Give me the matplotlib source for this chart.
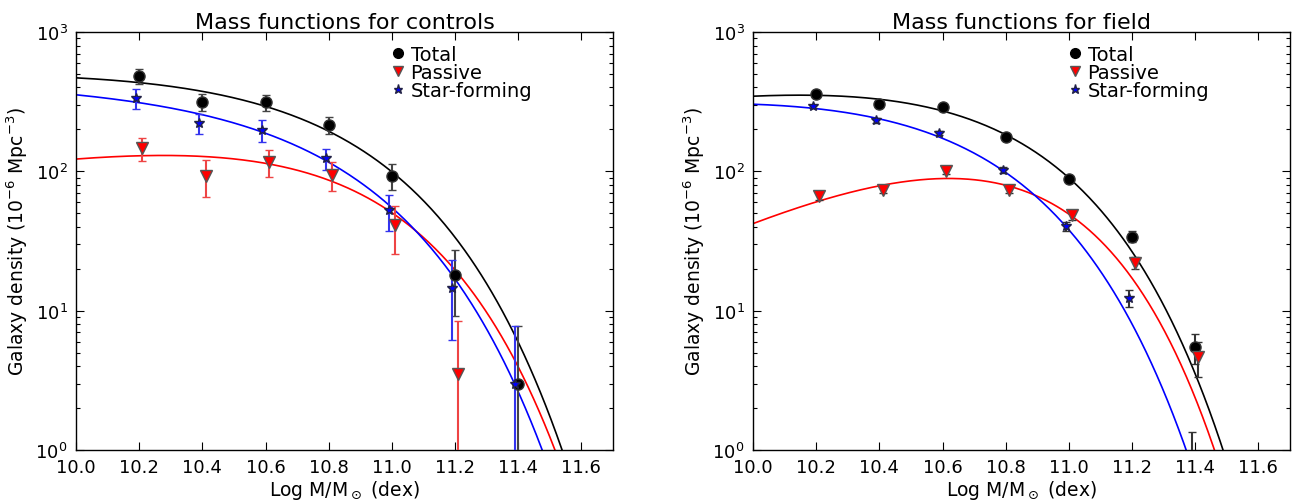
import numpy as np
import matplotlib
matplotlib.use("Agg")
import matplotlib.pyplot as plt
from matplotlib.lines import Line2D
from matplotlib.ticker import FixedLocator, LogLocator, NullFormatter

# ---------------------------------------------------------------
# Data (densities in 10^-6 Mpc^-3)
# ---------------------------------------------------------------
mass_total = [10.20, 10.40, 10.60, 10.80, 11.00, 11.20, 11.40]
mass_passive = [10.21, 10.41, 10.61, 10.81, 11.01, 11.21, 11.41]
mass_sf = [10.19, 10.39, 10.59, 10.79, 10.99, 11.19, 11.39]

# controls
ctrl_total = [482, 313, 313, 216, 93, 18.1, 2.97]
ctrl_total_err = [62, 44, 40, 30, 20, 9.0, 4.8]
ctrl_passive = [146, 93, 117, 94, 41, 3.5]
ctrl_passive_err = [28, 28, 26, 22, 15.5, 4.9]
ctrl_sf = [337, 222, 198, 124, 52.6, 14.6, 2.97]
ctrl_sf_err = [56, 38, 35, 21, 15.5, 8.4, 4.8]

# field
field_total = [358, 305, 288, 176, 88.3, 34, 5.46]
field_total_err = [10, 9, 9, 7, 5, 3, 1.3]
field_passive = [66.7, 73.6, 101, 73.6, 48.4, 22.0, 4.62]
field_passive_err = [4, 4, 5, 4, 3.5, 2.2, 1.3]
field_sf = [292, 232, 188, 103, 40.5, 12.4, 0.45]
field_sf_err = [9, 8, 7, 5, 3, 1.7, 0.9]

# Schechter fit parameters (phi*, log M*, alpha) estimated from the curves
ctrl_fits = {"total": (276.7, 10.72, -0.93),
             "passive": (116.9, 10.72, -0.64),
             "sf": (179.0, 10.70, -1.03)}
field_fits = {"total": (306.7, 10.63, -0.67),
              "passive": (104.2, 10.57, 0.12),
              "sf": (224.8, 10.55, -0.80)}

titles = ["Mass functions for controls", "Mass functions for field"]
legend_labels = ["Total", "Passive", "Star-forming"]
xticks = [10.0, 10.2, 10.4, 10.6, 10.8, 11.0, 11.2, 11.4, 11.6]


def schechter(m, phi_star, m_star, alpha):
    x = 10 ** (m - m_star)
    return np.log(10) * phi_star * x ** (1 + alpha) * np.exp(-x)


plt.rcParams["font.family"] = "DejaVu Sans"
plt.rcParams["mathtext.fontset"] = "dejavusans"

fig = plt.figure(figsize=(12.95, 5.02), dpi=100)
ax1 = fig.add_axes([76 / 1295, 1 - 451 / 502, 537 / 1295, 418 / 502])
ax2 = fig.add_axes([753 / 1295, 1 - 451 / 502, 537 / 1295, 418 / 502])

panels = [
    (ax1, ctrl_total, ctrl_total_err, ctrl_passive, ctrl_passive_err,
     ctrl_sf, ctrl_sf_err, ctrl_fits, True),
    (ax2, field_total, field_total_err, field_passive, field_passive_err,
     field_sf, field_sf_err, field_fits, False),
]

mgrid = np.linspace(10.0, 11.7, 400)

for i, (ax, tot, tot_e, pas, pas_e, sf, sf_e, fits, coloured) in enumerate(panels):
    # fitted curves
    ax.plot(mgrid, schechter(mgrid, *fits["total"]), color="black", lw=1.2)
    ax.plot(mgrid, schechter(mgrid, *fits["passive"]), color="red", lw=1.2)
    ax.plot(mgrid, schechter(mgrid, *fits["sf"]), color="blue", lw=1.2)

    if coloured:
        ecol_t, ecol_p, ecol_s = "#444444", "#ee4444", "#3333ee"
    else:
        ecol_t = ecol_p = ecol_s = "#333333"

    ax.errorbar(mass_total, tot, yerr=tot_e, fmt="o", color="black",
                ms=8, mec="#333333", ecolor=ecol_t, elinewidth=1.5, capsize=3,
                zorder=4)
    ax.errorbar(mass_passive[:len(pas)], pas, yerr=pas_e, fmt="v", color="red",
                ms=8.5, mec="#555555", ecolor=ecol_p, elinewidth=1.5, capsize=3,
                zorder=4)
    ax.errorbar(mass_sf, sf, yerr=sf_e, fmt="*", color="blue",
                ms=7, mec="#222244", ecolor=ecol_s, elinewidth=1.5, capsize=3,
                zorder=4)

    ax.set_yscale("log")
    ax.set_ylim(1, 1000)
    ax.set_xlim(10.0, 11.7)
    ax.xaxis.set_major_locator(FixedLocator(xticks))
    ax.set_xticklabels(["%.1f" % t for t in xticks])
    ax.yaxis.set_major_locator(LogLocator(base=10, numticks=10))
    ax.yaxis.set_minor_locator(LogLocator(base=10, subs=np.arange(2, 10), numticks=10))
    ax.yaxis.set_minor_formatter(NullFormatter())
    ax.tick_params(which="both", direction="in", top=True, right=True,
                   labelsize=13, pad=6)
    ax.tick_params(which="major", length=6, width=0.8)
    ax.tick_params(which="minor", length=3, width=0.8)
    for s in ax.spines.values():
        s.set_linewidth(1.0)

    ax.set_title(titles[i], fontsize=16, pad=3)
    ax.set_xlabel(r"Log M/M$_\odot$ (dex)", fontsize=13.5, labelpad=1)
    ax.set_ylabel(r"Galaxy density (10$^{-6}$ Mpc$^{-3}$)", fontsize=13.5,
                  labelpad=4)

    handles = [
        Line2D([], [], ls="none", marker="o", color="black", ms=7),
        Line2D([], [], ls="none", marker="v", color="red", mec="#555555", ms=7.5),
        Line2D([], [], ls="none", marker="*", color="blue", mec="#222244", ms=6.5),
    ]
    ax.legend(handles, legend_labels, loc="upper left",
              bbox_to_anchor=(0.565, 1.0), frameon=False, numpoints=1,
              fontsize=14, handlelength=0.6, handletextpad=0.35,
              labelspacing=-0.05, borderaxespad=0.25)

fig.savefig("out.png", dpi=100)
